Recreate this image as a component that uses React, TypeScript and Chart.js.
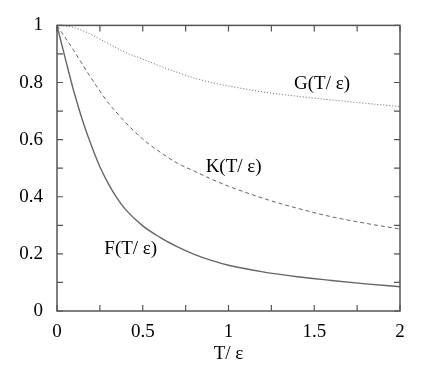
import React, { useEffect, useRef } from "react";
import { Chart, registerables } from "chart.js";

Chart.register(...registerables);

const T = [0, 0.05, 0.1, 0.15, 0.2, 0.25, 0.3, 0.35, 0.4, 0.5, 0.6, 0.7, 0.8, 0.9, 1.0, 1.2, 1.4, 1.6, 1.8, 2.0];
const F = [1, 0.88, 0.765, 0.665, 0.58, 0.505, 0.445, 0.395, 0.355, 0.298, 0.258, 0.225, 0.198, 0.177, 0.16, 0.137, 0.12, 0.107, 0.095, 0.085];
const K = [1, 0.955, 0.91, 0.862, 0.815, 0.77, 0.728, 0.693, 0.66, 0.602, 0.557, 0.518, 0.49, 0.462, 0.437, 0.395, 0.36, 0.33, 0.307, 0.287];
const G = [1, 0.998, 0.992, 0.982, 0.968, 0.952, 0.936, 0.92, 0.905, 0.882, 0.858, 0.836, 0.816, 0.8, 0.788, 0.767, 0.752, 0.739, 0.727, 0.716];

const curveNames = ["F(T/ ε)", "K(T/ ε)", "G(T/ ε)"];
const labelT = [0.43, 1.03, 1.545];
const labelV = [0.216, 0.503, 0.795];

const xTitle = "T/ ε";
const FONT = '"Liberation Serif", "DejaVu Serif", "Times New Roman", serif';

const pts = (ys: number[]) => T.map((t, i) => ({ x: t, y: ys[i] }));

const framePlugin = {
  id: "frame",
  afterDraw(chart: any) {
    const { ctx, chartArea: a, scales } = chart;
    ctx.save();
    ctx.strokeStyle = "#555";
    ctx.lineWidth = 1.5;
    ctx.strokeRect(a.left, a.top, a.right - a.left, a.bottom - a.top);
    ctx.lineWidth = 1.2;
    const len = 6;
    scales.x.ticks.forEach((tk: any) => {
      const px = scales.x.getPixelForValue(tk.value);
      ctx.beginPath();
      ctx.moveTo(px, a.bottom);
      ctx.lineTo(px, a.bottom - len);
      ctx.moveTo(px, a.top);
      ctx.lineTo(px, a.top + len);
      ctx.stroke();
    });
    scales.y.ticks.forEach((tk: any) => {
      const py = scales.y.getPixelForValue(tk.value);
      ctx.beginPath();
      ctx.moveTo(a.left, py);
      ctx.lineTo(a.left + len, py);
      ctx.moveTo(a.right, py);
      ctx.lineTo(a.right - len, py);
      ctx.stroke();
    });
    ctx.fillStyle = "#000";
    ctx.font = `19px ${FONT}`;
    ctx.textAlign = "center";
    ctx.textBaseline = "middle";
    curveNames.forEach((n, i) => {
      ctx.fillText(n, scales.x.getPixelForValue(labelT[i]), scales.y.getPixelForValue(labelV[i]));
    });
    ctx.restore();
  },
};

export default function App() {
  const ref = useRef<HTMLCanvasElement>(null);
  useEffect(() => {
    if (!ref.current) return;
    let chart: Chart | null = null;
    let cancelled = false;
    const build = () => {
      if (cancelled || !ref.current) return;
      chart = new Chart(ref.current, {
        type: "line",
        data: {
          datasets: [
            { label: "F", data: pts(F), borderColor: "#666", borderWidth: 1.4, pointRadius: 0, cubicInterpolationMode: "monotone", fill: false },
            { label: "K", data: pts(K), borderColor: "#666", borderWidth: 1, borderDash: [4, 3], pointRadius: 0, cubicInterpolationMode: "monotone", fill: false },
            { label: "G", data: pts(G), borderColor: "#666", borderWidth: 1, borderDash: [1, 2], pointRadius: 0, cubicInterpolationMode: "monotone", fill: false },
          ],
        },
        options: {
          animation: false,
          responsive: false,
          layout: { padding: { top: 15, right: 36, left: 0, bottom: 0 } },
          plugins: { legend: { display: false }, tooltip: { enabled: false } },
          scales: {
            x: {
              type: "linear",
              min: 0,
              max: 2,
              grid: { display: false, drawTicks: false },
              border: { display: false },
              ticks: {
                stepSize: 0.25,
                autoSkip: false,
                maxRotation: 0,
                padding: 10,
                color: "#000",
                font: { family: FONT, size: 19 },
                callback: (v: any) => {
                  const r = Math.round(Number(v) * 4);
                  return r % 2 === 0 ? String(r / 4) : "";
                },
              },
              title: { display: true, text: xTitle, color: "#000", font: { family: FONT, size: 19 }, padding: { top: 0, bottom: 2 } },
              afterFit: (s: any) => { s.height = 56; },
            },
            y: {
              min: 0,
              max: 1,
              grid: { display: false, drawTicks: false },
              border: { display: false },
              ticks: {
                stepSize: 0.1,
                autoSkip: false,
                padding: 14,
                color: "#000",
                font: { family: FONT, size: 19 },
                callback: (v: any) => {
                  const r = Math.round(Number(v) * 10);
                  return r % 2 === 0 ? String(r / 10) : "";
                },
              },
              afterFit: (s: any) => { s.width = 57; },
            },
          },
        },
        plugins: [framePlugin],
      });
    };
    const fonts: any = (document as any).fonts;
    if (fonts && fonts.load) {
      Promise.all([fonts.load('19px "Liberation Serif"'), fonts.load('19px "DejaVu Serif"')]).then(build, build);
    } else {
      build();
    }
    return () => {
      cancelled = true;
      if (chart) chart.destroy();
    };
  }, []);
  return (
    <div style={{ position: "absolute", left: 0, top: 0, width: 436, height: 367, background: "#fff" }}>
      <canvas ref={ref} width={436} height={367} style={{ display: "block" }} />
    </div>
  );
}
